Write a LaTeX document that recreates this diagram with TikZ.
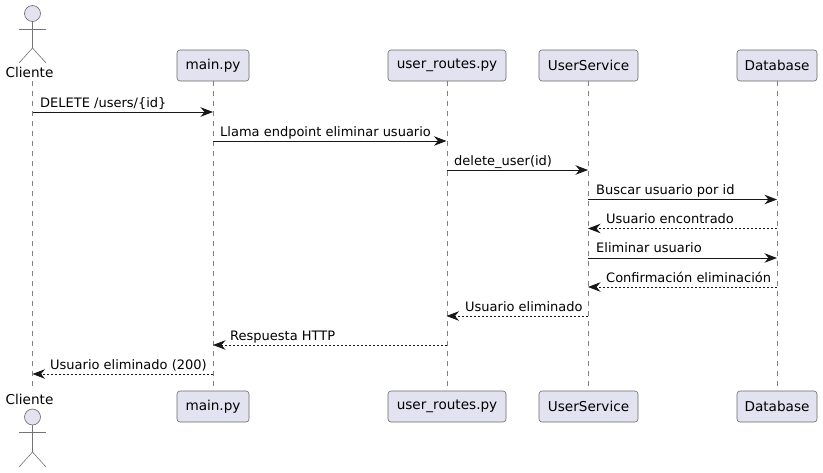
\documentclass[tikz,border=0pt]{standalone}
\usepackage{fontspec}
\setmainfont{DejaVu Sans}
\usetikzlibrary{arrows.meta}
\definecolor{partfill}{HTML}{E2E2F0}
\definecolor{partline}{HTML}{181818}
\tikzset{
  part/.style={draw=partline!65,fill=partfill,rounded corners=3pt,line width=0.6pt,inner sep=0pt,minimum height=31pt,font=\fontsize{13.6}{15}\selectfont,text=black},
  actorlabel/.style={inner sep=0pt,font=\fontsize{13.6}{15}\selectfont},
  actorline/.style={draw=partline!60,line width=0.6pt},
  lifeline/.style={draw=partline!55,line width=0.5pt,dash pattern=on 5pt off 5pt},
  call/.style={draw=partline,line width=0.9pt,-{Stealth[length=12.5pt,width=9.5pt,inset=4pt]}},
  reply/.style={draw=partline,line width=0.8pt,dash pattern=on 2pt off 2pt,-{Stealth[length=12.5pt,width=9.5pt,inset=4pt,sep=0pt]}},
  msg/.style={inner sep=0pt,anchor=base west,font=\fontsize{13}{15}\selectfont}
}
\begin{document}
\begin{tikzpicture}[x=1pt,y=-1pt]
\useasboundingbox (0,0) rectangle (823,472);
% participants
\node [part,minimum width=72pt] (main) at (213,65.5) {main.py};
\node [part,minimum width=118pt] (routes) at (447,65.5) {user\_routes.py};
\node [part,minimum width=99pt] (service) at (588.5,65.5) {UserService};
\node [part,minimum width=80pt] (db) at (777,65.5) {Database};
\node [part,minimum width=72pt] (main2) at (213,406.5) {main.py};
\node [part,minimum width=118pt] (routes2) at (447,406.5) {user\_routes.py};
\node [part,minimum width=99pt] (service2) at (588.5,406.5) {UserService};
\node [part,minimum width=80pt] (db2) at (777,406.5) {Database};
\coordinate (cli) at (32.5,81);
\coordinate (cli2) at (32.5,391);
% lifelines
\draw [lifeline] (cli) -- (cli2);
\draw [lifeline] (main) -- (main2);
\draw [lifeline] (routes) -- (routes2);
\draw [lifeline] (service) -- (service2);
\draw [lifeline] (db) -- (db2);
% actor top
\node [actorlabel] (clilabel) at (29.5,72.5) {Cliente};
\node [circle,draw=partline!65,fill=partfill,line width=0.6pt,minimum size=16pt,inner sep=0pt] (head) at (32.5,13.5) {};
\coordinate (hip) at (32.5,48);
\draw [actorline] (head) -- (hip);
\draw [actorline] (19,29) -- (46,29);
\draw [actorline] (19,63) -- (hip) -- (46,63);
% actor bottom
\node [actorlabel] (clilabel2) at (29.5,399.5) {Cliente};
\node [circle,draw=partline!65,fill=partfill,line width=0.6pt,minimum size=16pt,inner sep=0pt] (head2) at (32.5,417) {};
\coordinate (hip2) at (32.5,452);
\draw [actorline] (head2) -- (hip2);
\draw [actorline] (19,432) -- (46,432);
\draw [actorline] (19,467) -- (hip2) -- (46,467);
% messages
\coordinate (a1) at (32.5,112);
\coordinate (b1) at (213,112);
\coordinate (b2) at (213,141);
\coordinate (c2) at (446.5,141);
\coordinate (c3) at (446.5,170);
\coordinate (d3) at (588,170);
\coordinate (d4) at (588,199.5);
\coordinate (e4) at (777,199.5);
\coordinate (e5) at (777,228.5);
\coordinate (d5) at (588,228.5);
\coordinate (d6) at (588,258);
\coordinate (e6) at (777,258);
\coordinate (e7) at (777,287);
\coordinate (d7) at (588,287);
\coordinate (d8) at (588,316);
\coordinate (c8) at (446.5,316);
\coordinate (c9) at (446.5,345);
\coordinate (b9) at (213,345);
\coordinate (b10) at (213,374);
\coordinate (a10) at (32.5,374);
\draw [call] (a1) -- (b1);
\draw [call] (b2) -- (c2);
\draw [call] (c3) -- (d3);
\draw [call] (d4) -- (e4);
\draw [reply] (e5) -- (d5);
\draw [call] (d6) -- (e6);
\draw [reply] (e7) -- (d7);
\draw [reply] (d8) -- (c8);
\draw [reply] (c9) -- (b9);
\draw [reply] (b10) -- (a10);
\node [msg] (m1) at (40,107) {DELETE /users/\{id\}};
\node [msg] (m2) at (220,136) {Llama endpoint eliminar usuario};
\node [msg] (m3) at (454,165) {delete\_user(id)};
\node [msg] (m4) at (596,194) {Buscar usuario por id};
\node [msg] (m5) at (606,223.5) {Usuario encontrado};
\node [msg] (m6) at (596,252.5) {Eliminar usuario};
\node [msg] (m7) at (606,282) {Confirmación eliminación};
\node [msg] (m8) at (465,311) {Usuario eliminado};
\node [msg] (m9) at (230,340) {Respuesta HTTP};
\node [msg] (m10) at (50,369) {Usuario eliminado (200)};
\end{tikzpicture}
\end{document}
